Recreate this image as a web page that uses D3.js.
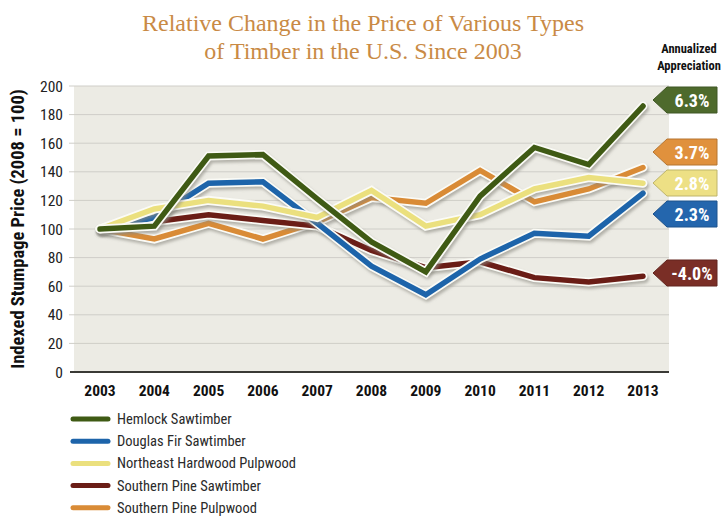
<!DOCTYPE html>
<html>
<head>
<meta charset="utf-8">
<script src="https://cdn.jsdelivr.net/npm/d3@7"></script>
<style>
body { margin: 0; background: #fff; }
svg { display: block; }
</style>
</head>
<body>
<svg></svg>
<script>
var years = [2003, 2004, 2005, 2006, 2007, 2008, 2009, 2010, 2011, 2012, 2013];
var yTicks = [0, 20, 40, 60, 80, 100, 120, 140, 160, 180, 200];

var hemlock = [100, 102, 151, 152, 121, 91, 70, 123, 157, 145, 186];
var douglasFir = [100, 108, 132, 133, 104, 74, 54, 79, 97, 95, 125];
var neHardwood = [100, 114, 120, 116, 108, 127, 102, 110, 128, 136, 132];
var spSawtimber = [100, 105, 110, 106, 102, 85, 73, 77, 66, 63, 67];
var spPulpwood = [100, 93, 104, 93, 105, 122, 118, 141, 119, 128, 143];

var seriesNames = ["Hemlock Sawtimber", "Douglas Fir Sawtimber", "Northeast Hardwood Pulpwood",
                   "Southern Pine Sawtimber", "Southern Pine Pulpwood"];
var seriesColors = ["#3f5a14", "#1d64aa", "#ebe07e", "#6a1d16", "#d98b36"];
var tagColors = ["#4e6a2c", "#2466ad", "#ede085", "#7a2e26", "#e0913d"];
var appreciation = ["6.3%", "2.3%", "2.8%", "-4.0%", "3.7%"];
var tagCenters = [100, 214, 183, 273, 152];

var seriesData = [hemlock, douglasFir, neHardwood, spSawtimber, spPulpwood];
var drawOrder = [4, 3, 1, 2, 0];

var screen = {width: 726, height: 517};
var svg = d3.select("svg")
    .attr("width", screen.width)
    .attr("height", screen.height)
    .style("font-family", "'Liberation Sans Narrow', 'Arial Narrow', 'Roboto Condensed', sans-serif");

var plot = {left: 74, right: 669, top: 86, bottom: 372};

var xScale = d3.scalePoint()
    .domain(years)
    .range([100, 643]);

var yScale = d3.scaleLinear()
    .domain([0, 200])
    .range([plot.bottom, plot.top]);

var defs = svg.append("defs");
var filt = defs.append("filter").attr("id", "shadow")
    .attr("x", "-10%").attr("y", "-10%").attr("width", "120%").attr("height", "130%");
filt.append("feGaussianBlur").attr("stdDeviation", 1.8);

// title
svg.append("g").selectAll("text")
    .data(["Relative Change in the Price of Various Types", "of Timber in the U.S. Since 2003"])
    .enter().append("text")
    .attr("x", 363)
    .attr("y", function(d, i) { return 31 + i * 28; })
    .attr("text-anchor", "middle")
    .style("font-family", "'Liberation Serif', 'Times New Roman', serif")
    .style("font-size", "24px")
    .attr("fill", "#c98a45")
    .text(function(d) { return d; });

// plot background
svg.append("rect")
    .attr("x", plot.left).attr("y", plot.top)
    .attr("width", plot.right - plot.left).attr("height", plot.bottom - plot.top)
    .attr("fill", "#ecebe4");

// gridlines
svg.append("g").selectAll("line")
    .data(yTicks.filter(function(d) { return d > 0; }))
    .enter().append("line")
    .attr("x1", 69).attr("x2", plot.right)
    .attr("y1", function(d) { return yScale(d); })
    .attr("y2", function(d) { return yScale(d); })
    .attr("stroke", "#cfcec8")
    .attr("stroke-width", 1);

// y axis labels
svg.append("g").selectAll("text")
    .data(yTicks)
    .enter().append("text")
    .attr("x", 63)
    .attr("y", function(d) { return yScale(d) + 5.5; })
    .attr("text-anchor", "end")
    .style("font-size", "15.5px")
    .attr("fill", "#222")
    .text(function(d) { return d; });

svg.append("text")
    .attr("transform", "translate(24," + ((plot.top + plot.bottom) / 2) + ") rotate(-90)")
    .attr("text-anchor", "middle")
    .style("font-size", "18.5px")
    .style("font-weight", "bold")
    .attr("fill", "#111")
    .text("Indexed Stumpage Price (2008 = 100)");

// x axis
svg.append("line")
    .attr("x1", 70).attr("x2", plot.right)
    .attr("y1", plot.bottom).attr("y2", plot.bottom)
    .attr("stroke", "#3a3a36").attr("stroke-width", 2);

svg.append("g").selectAll("text")
    .data(years)
    .enter().append("text")
    .attr("x", function(d) { return xScale(d); })
    .attr("y", 396)
    .attr("text-anchor", "middle")
    .style("font-size", "15.5px")
    .style("font-weight", "bold")
    .attr("fill", "#111")
    .text(function(d) { return d; });

// lines
var line = d3.line()
    .x(function(d, i) { return xScale(years[i]); })
    .y(function(d) { return yScale(d); });

var lines = svg.append("g");
drawOrder.forEach(function(k) {
    lines.append("path")
        .attr("d", line(seriesData[k]))
        .attr("transform", "translate(1.5,2.5)")
        .attr("fill", "none")
        .attr("stroke", "#8a8980")
        .attr("stroke-opacity", 0.6)
        .attr("stroke-width", 9)
        .attr("stroke-linejoin", "round")
        .attr("stroke-linecap", "round")
        .attr("filter", "url(#shadow)");
    lines.append("path")
        .attr("d", line(seriesData[k]))
        .attr("fill", "none")
        .attr("stroke", "#fbfbf6")
        .attr("stroke-width", 9)
        .attr("stroke-linejoin", "miter")
        .attr("stroke-linecap", "round");
    lines.append("path")
        .attr("d", line(seriesData[k]))
        .attr("fill", "none")
        .attr("stroke", seriesColors[k])
        .attr("stroke-width", 5.5)
        .attr("stroke-linejoin", "miter")
        .attr("stroke-linecap", "round");
});

// annualized appreciation
svg.append("g").selectAll("text")
    .data(["Annualized", "Appreciation"])
    .enter().append("text")
    .attr("x", 689)
    .attr("y", function(d, i) { return 53 + i * 17; })
    .attr("text-anchor", "middle")
    .style("font-size", "12.5px")
    .style("font-weight", "bold")
    .attr("fill", "#111")
    .text(function(d) { return d; });

var tags = svg.append("g").selectAll("g")
    .data(d3.range(5))
    .enter().append("g")
    .attr("transform", function(k) { return "translate(0," + tagCenters[k] + ")"; });

tags.append("path")
    .attr("d", "M653,0 L667,-13 L717,-13 L717,13 L667,13 Z")
    .attr("fill", function(k) { return tagColors[k]; })
    .attr("stroke", function(k) { return d3.color(tagColors[k]).darker(0.6); })
    .attr("stroke-width", 1);

tags.append("text")
    .attr("x", 692)
    .attr("y", 6.5)
    .attr("text-anchor", "middle")
    .style("font-size", "18px")
    .style("font-weight", "bold")
    .attr("fill", "#fff")
    .text(function(k) { return appreciation[k]; });

// legend
var legend = svg.append("g").selectAll("g")
    .data(d3.range(5))
    .enter().append("g")
    .attr("transform", function(k) { return "translate(0," + (419 + k * 22.2) + ")"; });

legend.append("line")
    .attr("x1", 73).attr("x2", 108)
    .attr("stroke", function(k) { return seriesColors[k]; })
    .attr("stroke-width", 5)
    .attr("stroke-linecap", "round");

legend.append("text")
    .attr("x", 117)
    .attr("y", 5)
    .style("font-size", "14.5px")
    .attr("fill", "#2a2a2a")
    .text(function(k) { return seriesNames[k]; });
</script>
</body>
</html>
